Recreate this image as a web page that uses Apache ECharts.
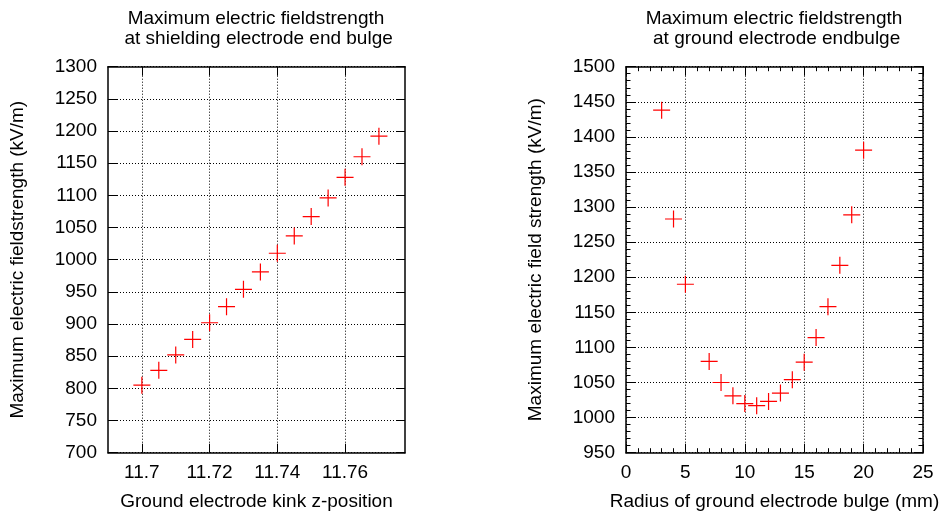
<!DOCTYPE html>
<html>
<head>
<meta charset="utf-8">
<script src="https://cdn.jsdelivr.net/npm/echarts@6/dist/echarts.min.js"></script>
<style>
  html, body { margin: 0; padding: 0; background: #fff; }
  #chart { width: 944px; height: 518px; }
</style>
</head>
<body>
<div id="chart"></div>
<script>
// left panel: kink z-position vs max field strength
const kinkZ = [11.70, 11.705, 11.71, 11.715, 11.72, 11.725, 11.73, 11.735, 11.74, 11.745, 11.75, 11.755, 11.76, 11.765, 11.77];
const kinkField = [805, 828, 852, 876, 902, 927, 954, 981, 1010, 1037, 1067, 1096, 1128, 1160, 1192];
const kinkTicks = [11.7, 11.72, 11.74, 11.76];

// right panel: bulge radius vs max field strength
const bulgeRadius = [3, 4, 5, 7, 8, 9, 10, 11, 12, 13, 14, 15, 16, 17, 18, 19, 20];
const bulgeField = [1438, 1283, 1190, 1080, 1050, 1031, 1020, 1017, 1023, 1035, 1054, 1079, 1114, 1158, 1217, 1289, 1381];

const FONT = "'Liberation Sans', Arial, sans-serif";
const PLUS = 'path://M7.9,0 H9.1 V7.9 H17 V9.1 H9.1 V17 H7.9 V9.1 H0 V7.9 H7.9 Z';

const chart = echarts.init(document.getElementById('chart'), null, { renderer: 'canvas' });

const line = { show: true, onZero: false, lineStyle: { color: '#000', width: 1.5 } };
const grid = { show: true, lineStyle: { color: '#000', width: 1, type: [1, 2] } };
const label = { color: '#000', fontSize: 19, fontFamily: FONT, margin: 11, formatter: v => String(v) };
const nameText = { color: '#000', fontSize: 19, fontFamily: FONT };

function tick(extra) {
    return Object.assign({ show: true, inside: true, length: 9, lineStyle: { color: '#000', width: 1 } }, extra || {});
}
function minor(on) {
    return { show: on, splitNumber: 5, length: 4.5, lineStyle: { color: '#000', width: 1 } };
}

const option = {
    animation: false,
    backgroundColor: '#fff',
    textStyle: { fontFamily: FONT },
    grid: [
        { left: 108, top: 66.7, width: 297, height: 386 },
        { left: 626, top: 66.7, width: 297, height: 386 }
    ],
    graphic: [
        { type: 'text', x: 256, y: 9, style: { text: 'Maximum electric fieldstrength\n at shielding electrode end bulge', textAlign: 'center', textVerticalAlign: 'top', font: '19px ' + FONT, lineHeight: 20, fill: '#000' } },
        { type: 'text', x: 774, y: 9, style: { text: 'Maximum electric fieldstrength\n at ground electrode endbulge', textAlign: 'center', textVerticalAlign: 'top', font: '19px ' + FONT, lineHeight: 20, fill: '#000' } }
    ],
    xAxis: [
        {
            gridIndex: 0, type: 'value', position: 'bottom', min: 11.69, max: 11.7777,
            name: 'Ground electrode kink z-position', nameLocation: 'middle', nameGap: 40, nameTextStyle: nameText,
            axisLine: line,
            axisTick: tick({ customValues: kinkTicks }),
            axisLabel: Object.assign({}, label, { customValues: kinkTicks, formatter: v => String(parseFloat(v.toFixed(3))) }),
            splitLine: grid
        },
        {
            gridIndex: 0, type: 'value', position: 'top', min: 11.69, max: 11.7777,
            axisLine: line, axisTick: tick({ customValues: kinkTicks }),
            axisLabel: { show: false, customValues: kinkTicks }, splitLine: { show: false }
        },
        {
            gridIndex: 1, type: 'value', position: 'bottom', min: 0, max: 25, interval: 5,
            name: 'Radius of ground electrode bulge (mm)', nameLocation: 'middle', nameGap: 40, nameTextStyle: nameText,
            axisLine: line, axisTick: tick(), minorTick: minor(true),
            axisLabel: label, splitLine: grid
        },
        {
            gridIndex: 1, type: 'value', position: 'top', min: 0, max: 25, interval: 5,
            axisLine: line, axisTick: tick(), minorTick: minor(true),
            axisLabel: { show: false }, splitLine: { show: false }
        }
    ],
    yAxis: [
        {
            gridIndex: 0, type: 'value', position: 'left', min: 700, max: 1300, interval: 50,
            name: 'Maximum electric fieldstrength (kV/m)', nameLocation: 'middle', nameGap: 81, nameTextStyle: nameText,
            axisLine: line, axisTick: tick(), axisLabel: label, splitLine: grid
        },
        {
            gridIndex: 0, type: 'value', position: 'right', min: 700, max: 1300, interval: 50,
            axisLine: line, axisTick: tick(), axisLabel: { show: false }, splitLine: { show: false }
        },
        {
            gridIndex: 1, type: 'value', position: 'left', min: 950, max: 1500, interval: 50,
            name: 'Maximum electric field strength (kV/m)', nameLocation: 'middle', nameGap: 81, nameTextStyle: nameText,
            axisLine: line, axisTick: tick(), minorTick: minor(true), axisLabel: label, splitLine: grid
        },
        {
            gridIndex: 1, type: 'value', position: 'right', min: 950, max: 1500, interval: 50,
            axisLine: line, axisTick: tick(), minorTick: minor(true), axisLabel: { show: false }, splitLine: { show: false }
        }
    ],
    series: [
        {
            type: 'scatter', xAxisIndex: 0, yAxisIndex: 0,
            data: kinkZ.map((x, i) => [x, kinkField[i]]),
            symbol: PLUS, symbolSize: 17,
            itemStyle: { color: '#ff0000', opacity: 1 },
            emphasis: { disabled: true }
        },
        {
            type: 'scatter', xAxisIndex: 2, yAxisIndex: 2,
            data: bulgeRadius.map((x, i) => [x, bulgeField[i]]),
            symbol: PLUS, symbolSize: 17,
            itemStyle: { color: '#ff0000', opacity: 1 },
            emphasis: { disabled: true }
        }
    ]
};

chart.setOption(option);
</script>
</body>
</html>
